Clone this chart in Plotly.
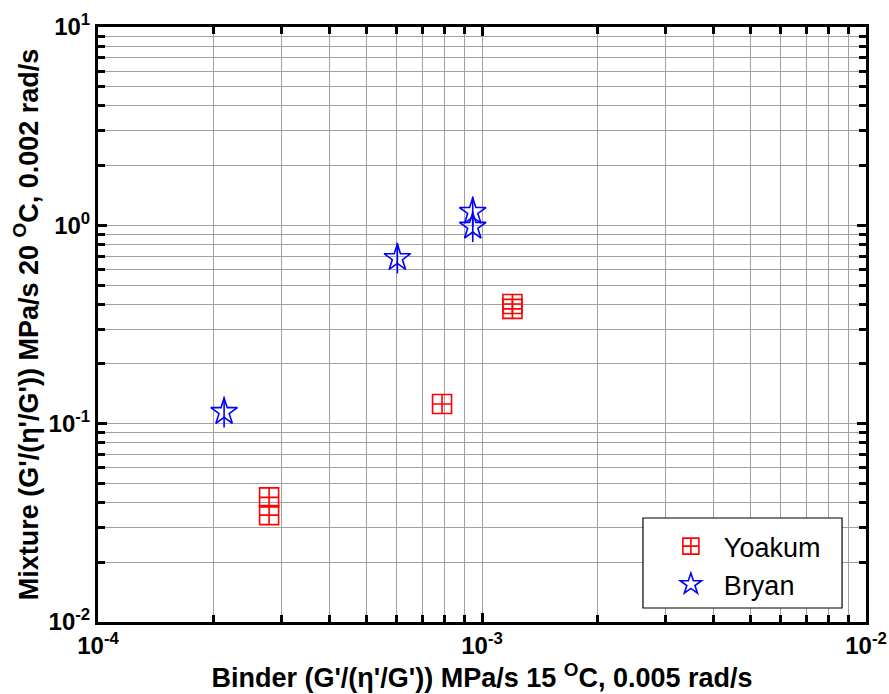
import plotly.graph_objects as go

# Yoakum field cores
yoakum_binder = [2.79e-4, 2.79e-4, 7.87e-4, 1.20e-3, 1.20e-3]
yoakum_mixture = [0.0425, 0.0346, 0.1256, 0.401, 0.379]

# Bryan field cores
bryan_binder = [2.13e-4, 6.02e-4, 9.46e-4, 9.46e-4]
bryan_mixture = [0.1145, 0.684, 1.17, 0.984]

x_ticks = [1e-4, 1e-3, 1e-2]
x_labels = ["10<sup>-4</sup>", "10<sup>-3</sup>", "10<sup>-2</sup>"]
y_ticks = [1e-2, 1e-1, 1e0, 1e1]
y_labels = ["10<sup>-2</sup>", "10<sup>-1</sup>", "10<sup>0</sup>", "10<sup>1</sup>"]

x_minor = [m * 10.0 ** e for e in (-4, -3) for m in range(2, 10)]
y_minor = [m * 10.0 ** e for e in (-2, -1, 0) for m in range(2, 10)]

FONT = "Liberation Sans, Arial, sans-serif"
GRID = "#a0a0a0"

fig = go.Figure()

fig.add_trace(go.Scatter(
    x=yoakum_binder, y=yoakum_mixture, mode="markers", name="Yoakum",
    marker=dict(symbol="square-cross-open", size=19, color="#ff0000",
                line=dict(width=1.6, color="#ff0000")),
))
fig.add_trace(go.Scatter(
    x=bryan_binder, y=bryan_mixture, mode="markers", name="Bryan",
    marker=dict(symbol="star-open", size=20, color="#0000ff",
                line=dict(width=1.6, color="#0000ff")),
))
# vertical stroke through each star
fig.add_trace(go.Scatter(
    x=bryan_binder, y=bryan_mixture, mode="markers", showlegend=False,
    hoverinfo="skip",
    marker=dict(symbol="line-ns-open", size=22, color="#0000ff",
                line=dict(width=1.6, color="#0000ff")),
))

axis_common = dict(
    type="log",
    automargin=False,
    showline=True, linecolor="black", linewidth=3,
    mirror="allticks",
    ticks="inside", ticklen=9, tickwidth=3, tickcolor="black",
    showgrid=True, gridcolor=GRID, gridwidth=1.2,
    zeroline=False,
    tickfont=dict(family=FONT, size=24, color="black", weight="bold"),
)

fig.update_xaxes(
    **axis_common,
    range=[-4, -2],
    tickmode="array", tickvals=x_ticks, ticktext=x_labels,
    minor=dict(tickvals=x_minor, ticks="inside", ticklen=7, tickwidth=3,
               tickcolor="black", showgrid=True, gridcolor=GRID, gridwidth=1.2),
    title=dict(text="Binder (G'/(η'/G')) MPa/s 15 <sup>O</sup>C, 0.005 rad/s",
               font=dict(family=FONT, size=27, color="black", weight="bold"),
               standoff=2),
)
fig.update_yaxes(
    **axis_common,
    range=[-2, 1],
    tickmode="array", tickvals=y_ticks, ticktext=y_labels,
    minor=dict(tickvals=y_minor, ticks="inside", ticklen=7, tickwidth=3,
               tickcolor="black", showgrid=True, gridcolor=GRID, gridwidth=1.2),
    title=dict(text="Mixture (G'/(η'/G')) MPa/s 20 <sup>O</sup>C, 0.002 rad/s",
               font=dict(family=FONT, size=27, color="black", weight="bold"),
               standoff=3),
)

# legend frame
fig.add_shape(type="rect", xref="paper", yref="paper",
              x0=0.7096, x1=0.9688, y0=0.0235, y1=0.1748,
              line=dict(color="black", width=1.2), fillcolor="white", layer="above")

fig.update_layout(
    width=889, height=694,
    margin=dict(l=98, r=23, t=27, b=72),
    paper_bgcolor="white", plot_bgcolor="white",
    showlegend=True,
    legend=dict(x=0.729, y=0.168, xanchor="left", yanchor="top",
                bgcolor="rgba(0,0,0,0)", borderwidth=0,
                font=dict(family=FONT, size=27, color="black"),
                itemwidth=56, tracegroupgap=0),
)

fig.write_html("out.html")
